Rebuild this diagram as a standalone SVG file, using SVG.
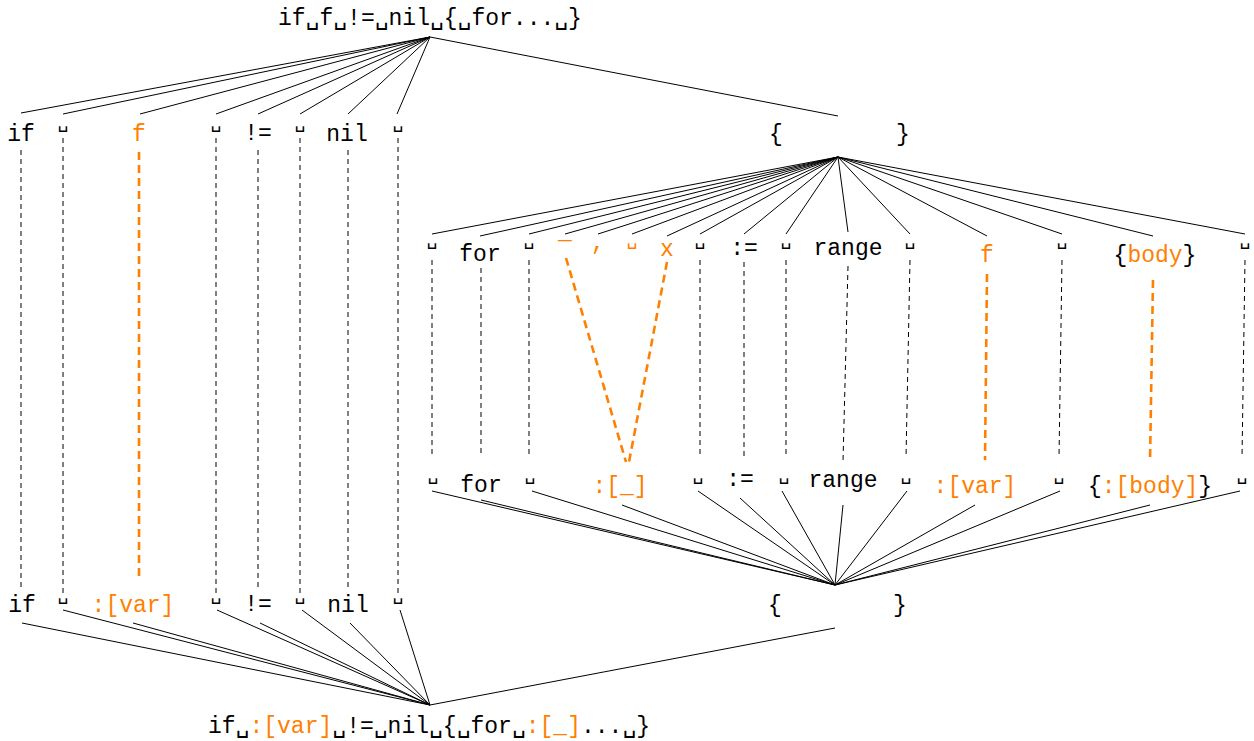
<svg xmlns="http://www.w3.org/2000/svg" width="1254" height="741" viewBox="0 0 1254 741">
  <style>
    text { font-family: "Liberation Mono", "DejaVu Sans Mono", monospace; font-size: 23px; fill: #000; text-anchor: middle; }
    .o { fill: #ff8000; }
    .sp { font-size: 18px; }
    .lbl { text-anchor: start; }
    .edge { stroke: #000; stroke-width: 1; fill: none; }
    .keep { stroke: #000; stroke-width: 1; stroke-dasharray: 5 4; fill: none; }
    .bind { stroke: #ff8000; stroke-width: 2.6; stroke-dasharray: 8 5; fill: none; }
  </style>
  <rect width="1254" height="741" fill="#fff"/>

  <!-- tree edges -->
  <g id="connectors">
    <!-- source root to its children -->
    <path class="edge" d="M430 37L21 113M430 37L63 114M430 37L140 114M430 37L216 114M430 37L258 114M430 37L300 114M430 37L348 114M430 37L397 114M430 37L838 116"/>
    <!-- braces block to its children -->
    <path class="edge" d="M838 157L432 234M838 157L480 236M838 157L529 234M838 157L565 234M838 157L598 234M838 157L632 234M838 157L667 236M838 157L700 234M838 157L744 234M838 157L786 234M838 157L848 232M838 157L910 234M838 157L987 236M838 157L1062 234M838 157L1153 236M838 157L1245 234"/>
    <!-- rewritten braces block children to their parent -->
    <path class="edge" d="M835 585L432 491M835 585L481 500M835 585L532 491M835 585L622 505M835 585L698 491M835 585L740 498M835 585L782 491M835 585L843 505M835 585L907 491M835 585L975 505M835 585L1060 491M835 585L1150 505M835 585L1240 491"/>
    <!-- rewritten root children -->
    <path class="edge" d="M430 705L22 623M430 705L63 610M430 705L133 623M430 705L217 610M430 705L260 623M430 705L302 610M430 705L350 623M430 705L400 610M430 705L835 628"/>

    <!-- unchanged tokens -->
    <path class="keep" d="M21 150V588M63 138V594M216 138V594M258 150V588M300 138V594M348 150V588M398 138V594"/>
    <path class="keep" d="M432 260V458M481 268V456M529 260V458M700 260V458M744 262V460M786 260V458M848 266L843 462M910 260L906 458M1062 260L1059 458M1245 260L1242 458"/>

    <!-- bound holes -->
    <path class="bind" d="M139 152V580"/>
    <path class="bind" d="M566 258L626 462M667 262L629 462"/>
    <path class="bind" d="M987 274L985 460"/>
    <path class="bind" d="M1153 280L1150 462"/>
  </g>

  <!-- source program -->
  <g id="src-root"><text class="lbl" x="278" y="25">if␣f␣!=␣nil␣{␣for...␣}</text></g>
  <g id="src-if"><text x="21" y="141">if</text></g>
  <g id="src-sp1"><text class="sp" x="63" y="128">␣</text></g>
  <g id="src-f"><text class="o" x="139" y="141">f</text></g>
  <g id="src-sp2"><text class="sp" x="216" y="128">␣</text></g>
  <g id="src-ne"><text x="258" y="140">!=</text></g>
  <g id="src-sp3"><text class="sp" x="300" y="128">␣</text></g>
  <g id="src-nil"><text x="347" y="141">nil</text></g>
  <g id="src-sp4"><text class="sp" x="398" y="128">␣</text></g>
  <g id="src-braces"><text x="776" y="141">{</text><text x="903" y="141">}</text></g>

  <!-- source block contents -->
  <g id="blk-sp1"><text class="sp" x="432" y="245">␣</text></g>
  <g id="blk-for"><text x="480" y="261">for</text></g>
  <g id="blk-sp2"><text class="sp" x="529" y="245">␣</text></g>
  <g id="blk-us"><text class="o" x="565" y="239">_</text></g>
  <g id="blk-comma"><text class="o" x="598" y="250">,</text></g>
  <g id="blk-sp3"><text class="sp o" x="632" y="245">␣</text></g>
  <g id="blk-x"><text class="o" x="667" y="256">x</text></g>
  <g id="blk-sp4"><text class="sp" x="700" y="245">␣</text></g>
  <g id="blk-assign"><text x="744" y="255">:=</text></g>
  <g id="blk-sp5"><text class="sp" x="786" y="245">␣</text></g>
  <g id="blk-range"><text x="848" y="255">range</text></g>
  <g id="blk-sp6"><text class="sp" x="910" y="245">␣</text></g>
  <g id="blk-f"><text class="o" x="987" y="262">f</text></g>
  <g id="blk-sp7"><text class="sp" x="1062" y="245">␣</text></g>
  <g id="blk-body"><text x="1155" y="262">{<tspan class="o">body</tspan>}</text></g>
  <g id="blk-sp8"><text class="sp" x="1245" y="245">␣</text></g>

  <!-- rewritten block contents -->
  <g id="out-blk-sp1"><text class="sp" x="433" y="480">␣</text></g>
  <g id="out-blk-for"><text x="481" y="492">for</text></g>
  <g id="out-blk-sp2"><text class="sp" x="530" y="480">␣</text></g>
  <g id="out-blk-hole"><text class="o" x="620" y="493">:[_]</text></g>
  <g id="out-blk-sp4"><text class="sp" x="698" y="480">␣</text></g>
  <g id="out-blk-assign"><text x="740" y="486">:=</text></g>
  <g id="out-blk-sp5"><text class="sp" x="784" y="480">␣</text></g>
  <g id="out-blk-range"><text x="843" y="487">range</text></g>
  <g id="out-blk-sp6"><text class="sp" x="906" y="480">␣</text></g>
  <g id="out-blk-var"><text class="o" x="975" y="493">:[var]</text></g>
  <g id="out-blk-sp7"><text class="sp" x="1059" y="480">␣</text></g>
  <g id="out-blk-body"><text x="1150" y="493">{<tspan class="o">:[body]</tspan>}</text></g>
  <g id="out-blk-sp8"><text class="sp" x="1242" y="480">␣</text></g>

  <!-- rewritten program -->
  <g id="out-if"><text x="22" y="612">if</text></g>
  <g id="out-sp1"><text class="sp" x="63" y="600">␣</text></g>
  <g id="out-var"><text class="o" x="133" y="612">:[var]</text></g>
  <g id="out-sp2"><text class="sp" x="216" y="600">␣</text></g>
  <g id="out-ne"><text x="258" y="611">!=</text></g>
  <g id="out-sp3"><text class="sp" x="300" y="600">␣</text></g>
  <g id="out-nil"><text x="348" y="612">nil</text></g>
  <g id="out-sp4"><text class="sp" x="398" y="600">␣</text></g>
  <g id="out-braces"><text x="775" y="612">{</text><text x="900" y="612">}</text></g>
  <g id="out-root"><text class="lbl" x="208" y="733">if␣<tspan class="o">:[var]</tspan>␣!=␣nil␣{␣for␣<tspan class="o">:[_]</tspan>...␣}</text></g>
</svg>
